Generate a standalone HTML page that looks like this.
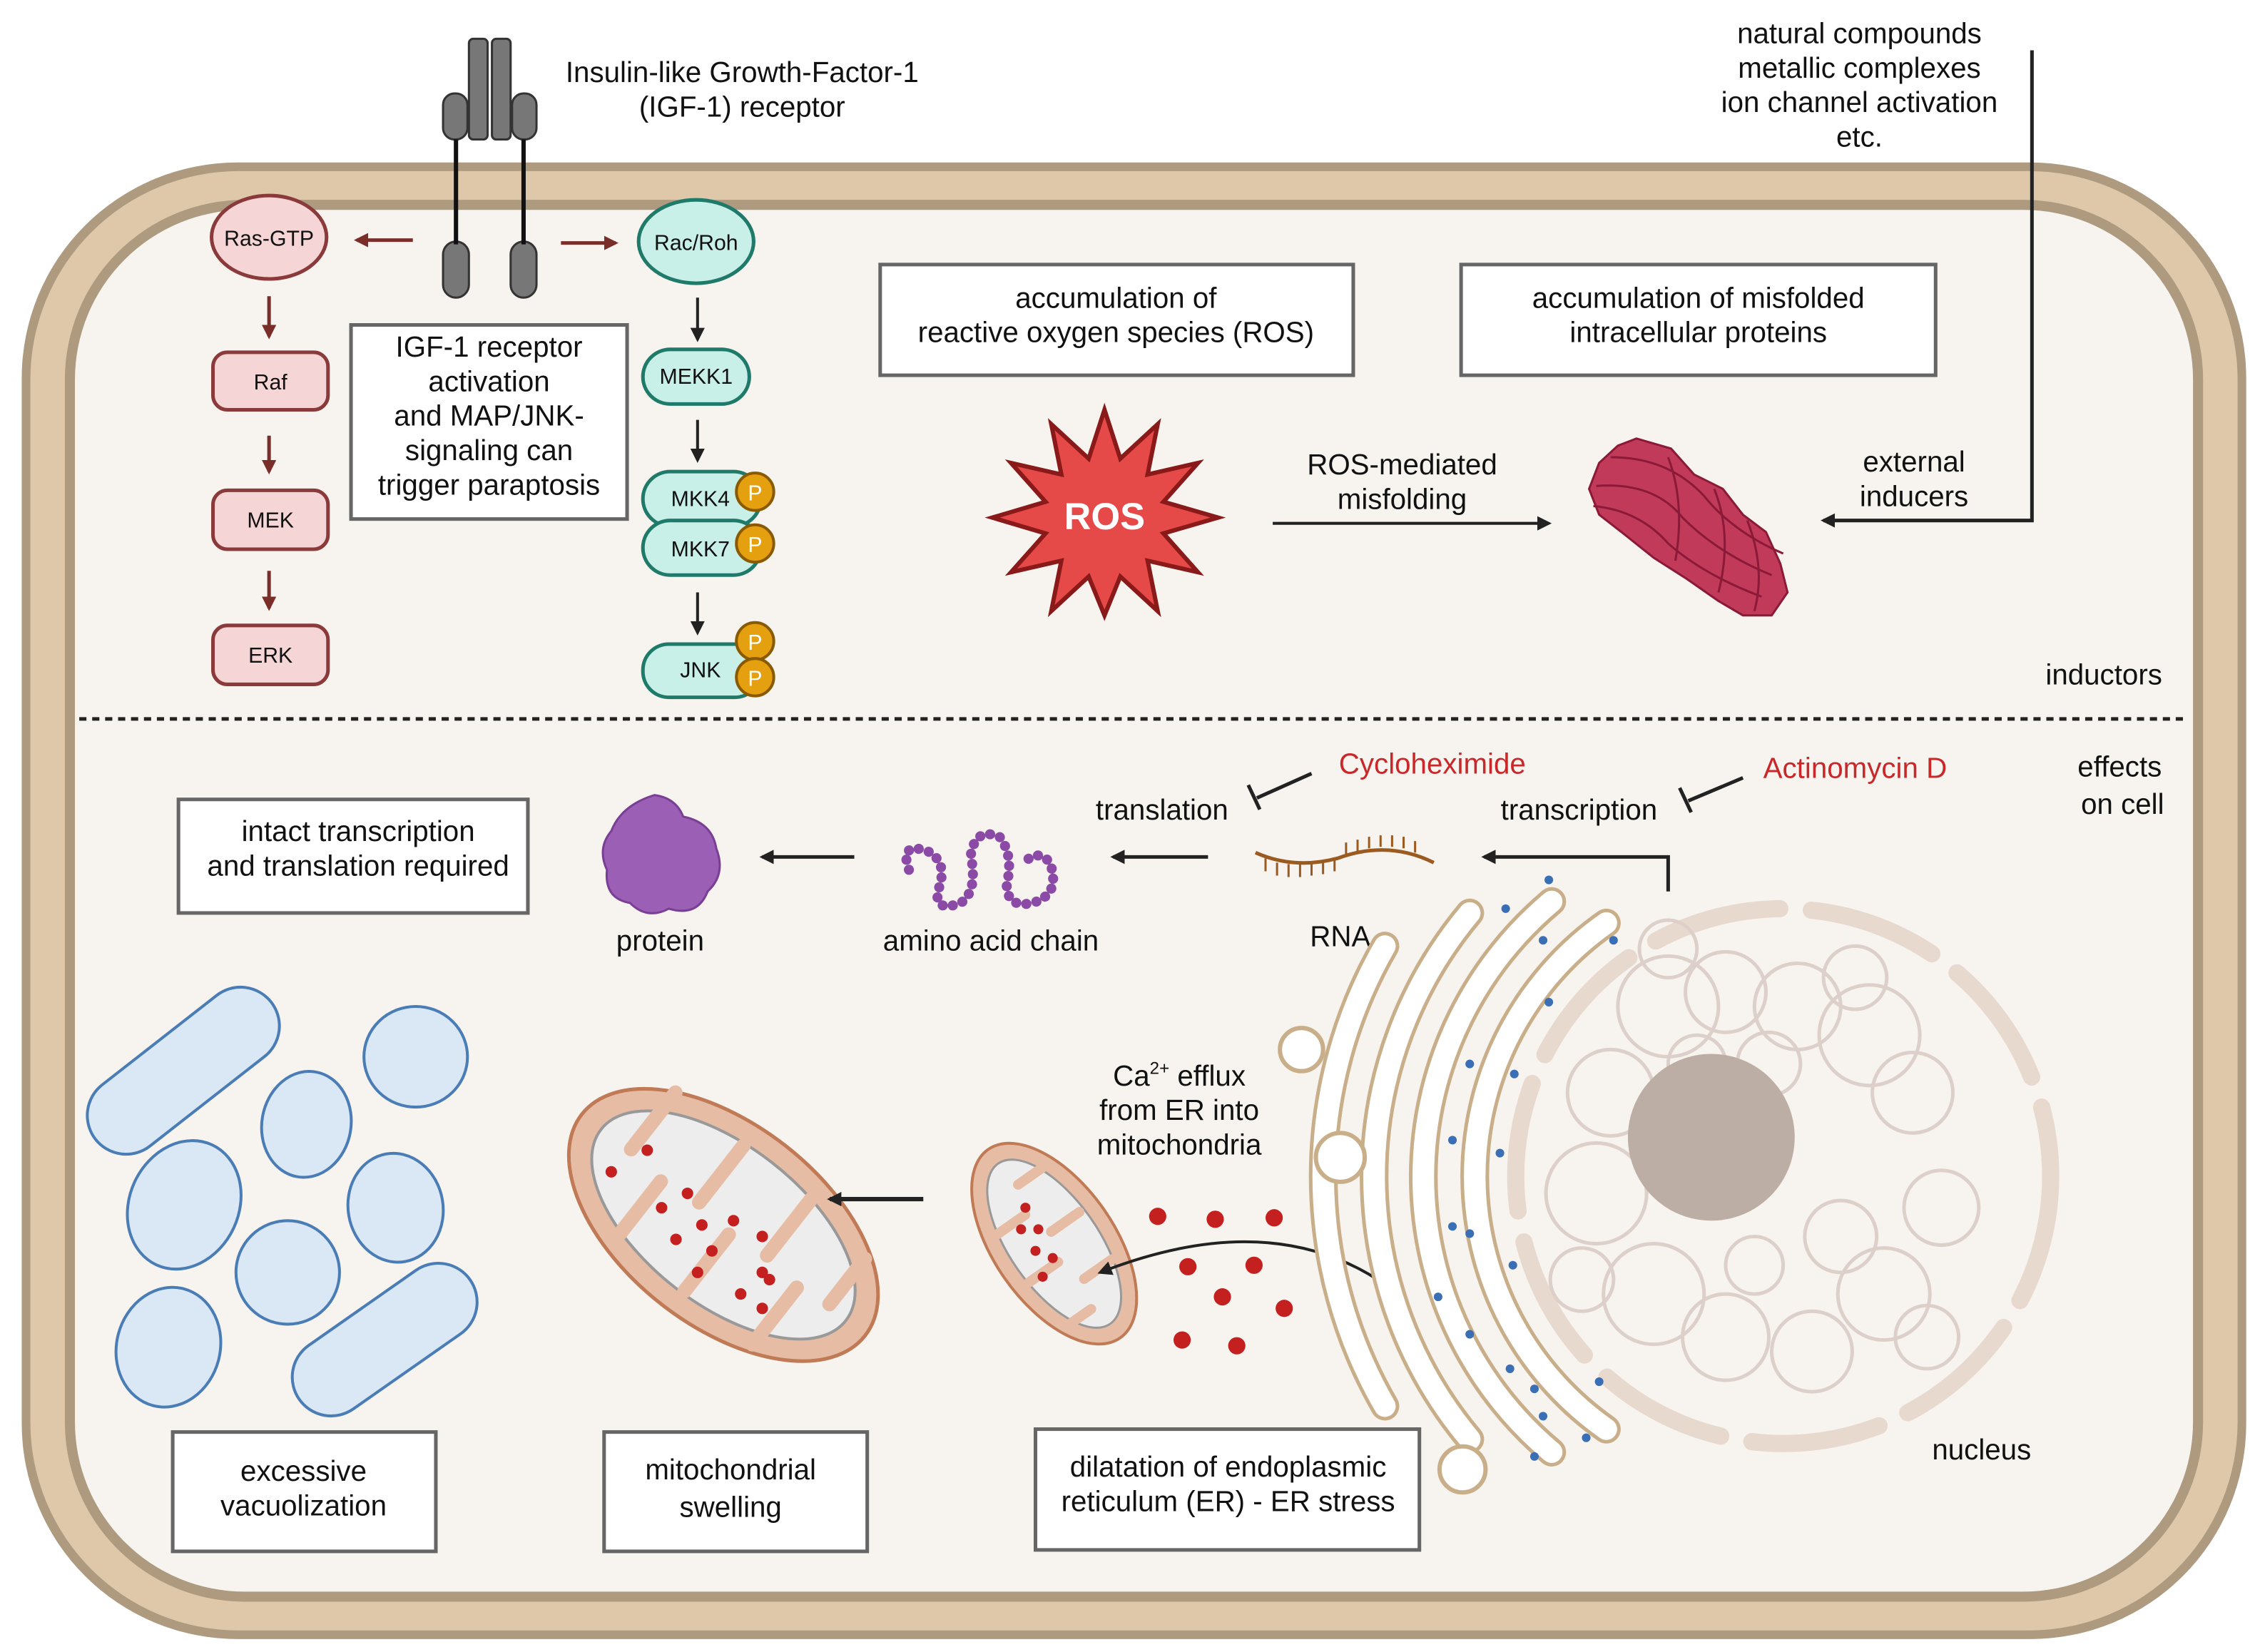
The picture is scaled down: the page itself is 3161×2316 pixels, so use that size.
<!DOCTYPE html>
<html><head><meta charset="utf-8"><style>
html,body{margin:0;padding:0;background:#fff;}
svg{display:block;}
text{font-family:"Liberation Sans",sans-serif;fill:#111;}
</style></head><body>
<svg width="3161" height="2316" viewBox="0 0 1568 1149" xmlns="http://www.w3.org/2000/svg">
<defs>
<marker id="ab" markerWidth="10" markerHeight="10" refX="8" refY="5" orient="auto" markerUnits="userSpaceOnUse"><path d="M0,0 L10,5 L0,10 Z" fill="#222"/></marker>
<marker id="ar" markerWidth="10" markerHeight="10" refX="8" refY="5" orient="auto" markerUnits="userSpaceOnUse"><path d="M0,0 L10,5 L0,10 Z" fill="#7a2e2a"/></marker>
</defs>
<rect width="1568" height="1149" fill="#fff"/>
<!-- cell -->
<rect x="15" y="113" width="1547" height="1027" rx="150" fill="#ad9a7f"/>
<rect x="21" y="119" width="1535" height="1015" rx="145" fill="#dfc8aa"/>
<rect x="45" y="139" width="1487" height="975" rx="125" fill="#ad9a7f"/>
<rect x="52" y="146" width="1473" height="961" rx="118" fill="#f7f4ef"/>
<line x1="55" y1="500" x2="1522" y2="500" stroke="#222" stroke-width="2.5" stroke-dasharray="5,4"/>

<!-- receptor -->
<g fill="#777" stroke="#333" stroke-width="1.5">
<rect x="326" y="27" width="13" height="70" rx="3"/>
<rect x="342" y="27" width="13" height="70" rx="3"/>
<rect x="308" y="65" width="17" height="32" rx="8"/>
<rect x="356" y="65" width="17" height="32" rx="8"/>
<rect x="308" y="168" width="18" height="39" rx="9"/>
<rect x="355" y="168" width="18" height="39" rx="9"/>
</g>
<line x1="317" y1="97" x2="317" y2="170" stroke="#111" stroke-width="3"/>
<line x1="364" y1="97" x2="364" y2="170" stroke="#111" stroke-width="3"/>
<text x="516" y="57" font-size="20" text-anchor="middle">Insulin-like Growth-Factor-1</text>
<text x="516" y="81" font-size="20" text-anchor="middle">(IGF-1) receptor</text>

<!-- Ras pathway -->
<g stroke="#7a2e2a" stroke-width="2.5" marker-end="url(#ar)">
<line x1="287" y1="167" x2="248" y2="167"/>
<line x1="390" y1="169" x2="428" y2="169"/>
<line x1="187" y1="206" x2="187" y2="234"/>
<line x1="187" y1="303" x2="187" y2="328"/>
<line x1="187" y1="397" x2="187" y2="423"/>
</g>
<ellipse cx="187" cy="165" rx="40" ry="29" fill="#f5d5d5" stroke="#8a3a3a" stroke-width="2.5"/>
<text x="187" y="171" font-size="15" text-anchor="middle">Ras-GTP</text>
<rect x="148" y="245" width="80" height="40" rx="10" fill="#f5d5d5" stroke="#8a3a3a" stroke-width="2.5"/>
<text x="188" y="271" font-size="15" text-anchor="middle">Raf</text>
<rect x="148" y="341" width="80" height="41" rx="10" fill="#f5d5d5" stroke="#8a3a3a" stroke-width="2.5"/>
<text x="188" y="367" font-size="15" text-anchor="middle">MEK</text>
<rect x="148" y="435" width="80" height="41" rx="10" fill="#f5d5d5" stroke="#8a3a3a" stroke-width="2.5"/>
<text x="188" y="461" font-size="15" text-anchor="middle">ERK</text>

<!-- IGF box -->
<rect x="244" y="226" width="192" height="135" fill="#fff" stroke="#666" stroke-width="2.5"/>
<g font-size="20" text-anchor="middle">
<text x="340" y="248">IGF-1 receptor</text>
<text x="340" y="272">activation</text>
<text x="340" y="296">and MAP/JNK-</text>
<text x="340" y="320">signaling can</text>
<text x="340" y="344">trigger paraptosis</text>
</g>

<!-- JNK pathway -->
<g stroke="#222" stroke-width="2" marker-end="url(#ab)">
<line x1="485" y1="207" x2="485" y2="236"/>
<line x1="485" y1="292" x2="485" y2="320"/>
<line x1="485" y1="412" x2="485" y2="440"/>
</g>
<g fill="#c8efe8" stroke="#1f7a6a" stroke-width="2.5">
<ellipse cx="484" cy="168" rx="40" ry="29"/>
<rect x="447" y="243" width="74" height="38" rx="19"/>
<rect x="447" y="328" width="82" height="38" rx="19"/>
<rect x="447" y="362" width="82" height="38" rx="19"/>
<rect x="447" y="448" width="82" height="37" rx="18"/>
</g>
<g font-size="15" text-anchor="middle">
<text x="484" y="174">Rac/Roh</text>
<text x="484" y="267">MEKK1</text>
<text x="487" y="352">MKK4</text>
<text x="487" y="387">MKK7</text>
<text x="487" y="471">JNK</text>
</g>
<g fill="#e5a00f" stroke="#8a5a00" stroke-width="2">
<circle cx="525" cy="342" r="13"/><circle cx="525" cy="378" r="13"/>
<circle cx="525" cy="446" r="13"/><circle cx="525" cy="471" r="13"/>
</g>
<g font-size="15" text-anchor="middle">
<text x="525" y="348" style="fill:#fff">P</text><text x="525" y="384" style="fill:#fff">P</text>
<text x="525" y="452" style="fill:#fff">P</text><text x="525" y="477" style="fill:#fff">P</text>
</g>

<!-- top boxes -->
<rect x="612" y="184" width="329" height="77" fill="#fff" stroke="#666" stroke-width="2.5"/>
<text x="776" y="214" font-size="20" text-anchor="middle">accumulation of</text>
<text x="776" y="238" font-size="20" text-anchor="middle">reactive oxygen species (ROS)</text>
<rect x="1016" y="184" width="330" height="77" fill="#fff" stroke="#666" stroke-width="2.5"/>
<text x="1181" y="214" font-size="20" text-anchor="middle">accumulation of misfolded</text>
<text x="1181" y="238" font-size="20" text-anchor="middle">intracellular proteins</text>

<!-- ROS star -->
<polygon points="768,285 779,319 805,295 798,330 833,322 809,349 847,360 809,371 833,398 798,390 805,425 779,401 768,428 757,401 731,425 738,390 703,398 727,371 690,360 727,349 703,322 738,330 731,295 757,319" fill="#e54a48" stroke="#8a1a1a" stroke-width="3"/>
<text x="768" y="368" font-size="26" font-weight="bold" text-anchor="middle" style="fill:#fff">ROS</text>
<line x1="885" y1="364" x2="1077" y2="364" stroke="#222" stroke-width="2" marker-end="url(#ab)"/>
<text x="975" y="330" font-size="20" text-anchor="middle">ROS-mediated</text>
<text x="975" y="354" font-size="20" text-anchor="middle">misfolding</text>

<!-- aggregate -->
<g fill="#c23a5a" stroke="#8a1a38" stroke-width="1.5">
<path d="M1138,305 L1162,312 L1178,330 L1198,340 L1212,358 L1228,370 L1238,392 L1243,412 L1232,428 L1212,428 L1195,418 L1172,402 L1150,388 L1130,372 L1112,358 L1105,340 L1112,322 L1125,310 Z"/>
<path d="M1110,338 Q1150,335 1170,360 Q1195,385 1232,400" fill="none"/>
<path d="M1120,318 Q1160,318 1185,345 Q1205,370 1240,385" fill="none"/>
<path d="M1108,352 Q1140,355 1160,378 Q1185,400 1225,415" fill="none"/>
<path d="M1160,318 Q1172,350 1165,390" fill="none"/>
<path d="M1192,340 Q1205,372 1195,412" fill="none"/>
<path d="M1215,362 Q1228,395 1220,425" fill="none"/>
</g>

<!-- external inducers -->
<polyline points="1413,35 1413,362 1268,362" fill="none" stroke="#222" stroke-width="2.5" marker-end="url(#ab)"/>
<g font-size="20" text-anchor="middle">
<text x="1293" y="30">natural compounds</text>
<text x="1293" y="54">metallic complexes</text>
<text x="1293" y="78">ion channel activation</text>
<text x="1293" y="102">etc.</text>
<text x="1331" y="328">external</text>
<text x="1331" y="352">inducers</text>
<text x="1463" y="476">inductors</text>
<text x="1474" y="540">effects</text>
<text x="1476" y="566">on cell</text>
</g>

<!-- transcription / translation -->
<text x="996" y="538" font-size="20" text-anchor="middle" style="fill:#c8282a">Cycloheximide</text>
<text x="1290" y="541" font-size="20" text-anchor="middle" style="fill:#c8282a">Actinomycin D</text>
<g stroke="#222" stroke-width="2.5">
<line x1="912" y1="538" x2="874" y2="555"/><line x1="868" y1="546" x2="876" y2="563"/>
<line x1="1212" y1="541" x2="1174" y2="557"/><line x1="1168" y1="548" x2="1176" y2="565"/>
</g>
<text x="808" y="570" font-size="20" text-anchor="middle">translation</text>
<text x="1098" y="570" font-size="20" text-anchor="middle">transcription</text>
<polyline points="1160,620 1160,596 1032,596" fill="none" stroke="#222" stroke-width="2.5" marker-end="url(#ab)"/>
<line x1="840" y1="596" x2="774" y2="596" stroke="#222" stroke-width="2.5" marker-end="url(#ab)"/>
<line x1="594" y1="596" x2="530" y2="596" stroke="#222" stroke-width="2.5" marker-end="url(#ab)"/>
<!-- RNA -->
<path d="M873,593 Q900,605 930,597 Q965,584 997,600" fill="none" stroke="#9a5a20" stroke-width="2.5"/>
<g stroke="#9a5a20" stroke-width="1.5">
<line x1="880" y1="597" x2="880" y2="606"/><line x1="888" y1="600" x2="888" y2="609"/><line x1="896" y1="601" x2="896" y2="610"/><line x1="904" y1="601" x2="904" y2="610"/><line x1="912" y1="600" x2="912" y2="609"/><line x1="920" y1="599" x2="920" y2="608"/><line x1="928" y1="597" x2="928" y2="606"/><line x1="936" y1="594" x2="936" y2="586"/><line x1="944" y1="592" x2="944" y2="584"/><line x1="952" y1="590" x2="952" y2="582"/><line x1="960" y1="589" x2="960" y2="581"/><line x1="968" y1="589" x2="968" y2="581"/><line x1="976" y1="590" x2="976" y2="582"/><line x1="984" y1="593" x2="984" y2="585"/>
</g>
<text x="932" y="658" font-size="20" text-anchor="middle">RNA</text>
<!-- amino acid chain -->
<path d="M632,605 Q625,585 645,592 Q660,600 652,620 Q650,635 668,628 Q680,620 675,595 Q678,575 695,582 Q705,595 700,615 Q700,632 718,628 Q738,622 730,600 Q722,590 712,600" fill="none" stroke="#8a4aa5" stroke-width="7" stroke-dasharray="0.1,7" stroke-linecap="round"/>
<text x="689" y="661" font-size="20" text-anchor="middle">amino acid chain</text>
<!-- protein -->
<path d="M455,553 Q470,555 475,568 Q495,572 498,590 Q505,608 492,620 Q485,638 465,632 Q450,640 438,628 Q420,625 422,605 Q415,590 425,578 Q432,560 455,553 Z" fill="#9b5fb5" stroke="#7a3f95" stroke-width="1.5"/>
<text x="459" y="661" font-size="20" text-anchor="middle">protein</text>
<rect x="124" y="556" width="243" height="79" fill="#fff" stroke="#666" stroke-width="2.5"/>
<text x="249" y="585" font-size="20" text-anchor="middle">intact transcription</text>
<text x="249" y="609" font-size="20" text-anchor="middle">and translation required</text>

<!-- vacuoles -->
<g fill="#dae8f5" stroke="#4a7cb5" stroke-width="2">
<rect x="50" y="718" width="155" height="54" rx="27" transform="rotate(-38 127 745)"/>
<ellipse cx="289" cy="735" rx="36" ry="35"/>
<ellipse cx="213" cy="782" rx="31" ry="37" transform="rotate(10 213 782)"/>
<ellipse cx="128" cy="838" rx="38" ry="46" transform="rotate(25 128 838)"/>
<ellipse cx="275" cy="840" rx="33" ry="38" transform="rotate(-10 275 840)"/>
<ellipse cx="200" cy="885" rx="36" ry="36"/>
<ellipse cx="117" cy="937" rx="36" ry="42" transform="rotate(15 117 937)"/>
<rect x="195" y="905" width="145" height="54" rx="27" transform="rotate(-35 267 932)"/>
</g>
<rect x="120" y="996" width="183" height="83" fill="#fff" stroke="#666" stroke-width="2.5"/>
<text x="211" y="1030" font-size="20" text-anchor="middle">excessive</text>
<text x="211" y="1054" font-size="20" text-anchor="middle">vacuolization</text>

<!-- mitochondria -->
<g transform="rotate(38 503 852)">
<ellipse cx="503" cy="852" rx="125" ry="70" fill="#e6bca5" stroke="#c07a55" stroke-width="2.5"/>
<ellipse cx="503" cy="852" rx="108" ry="55" fill="#ededed" stroke="#999" stroke-width="2"/>
<g stroke="#e6bca5" stroke-width="10" stroke-linecap="round">
<line x1="420" y1="800" x2="420" y2="850"/><line x1="450" y1="905" x2="450" y2="855"/><line x1="480" y1="800" x2="480" y2="850"/><line x1="510" y1="905" x2="510" y2="855"/><line x1="540" y1="800" x2="540" y2="850"/><line x1="570" y1="905" x2="570" y2="855"/><line x1="595" y1="810" x2="595" y2="850"/>
</g>
</g>
<g fill="#c42020">
<circle cx="425" cy="815" r="4"/><circle cx="450" cy="800" r="4"/><circle cx="460" cy="840" r="4"/><circle cx="478" cy="830" r="4"/><circle cx="470" cy="862" r="4"/><circle cx="488" cy="852" r="4"/><circle cx="495" cy="870" r="4"/><circle cx="510" cy="849" r="4"/><circle cx="530" cy="860" r="4"/><circle cx="485" cy="885" r="4"/><circle cx="515" cy="900" r="4"/><circle cx="530" cy="885" r="4"/><circle cx="535" cy="890" r="4"/><circle cx="530" cy="910" r="4"/>
</g>
<g transform="rotate(55 733 865)">
<ellipse cx="733" cy="865" rx="80" ry="42" fill="#e6bca5" stroke="#c07a55" stroke-width="2"/>
<ellipse cx="733" cy="865" rx="68" ry="31" fill="#ededed" stroke="#999" stroke-width="1.5"/>
<g stroke="#e6bca5" stroke-width="7" stroke-linecap="round">
<line x1="685" y1="838" x2="685" y2="862"/><line x1="705" y1="895" x2="705" y2="870"/><line x1="725" y1="838" x2="725" y2="862"/><line x1="745" y1="895" x2="745" y2="870"/><line x1="765" y1="838" x2="765" y2="862"/><line x1="785" y1="890" x2="785" y2="870"/>
</g>
</g>
<g fill="#c42020">
<circle cx="713" cy="840" r="3.5"/><circle cx="722" cy="855" r="3.5"/><circle cx="710" cy="855" r="3.5"/><circle cx="720" cy="870" r="3.5"/><circle cx="732" cy="875" r="3.5"/><circle cx="725" cy="888" r="3.5"/>
</g>
<line x1="642" y1="834" x2="577" y2="834" stroke="#222" stroke-width="3" marker-end="url(#ab)"/>
<rect x="420" y="996" width="183" height="83" fill="#fff" stroke="#666" stroke-width="2.5"/>
<text x="508" y="1029" font-size="20" text-anchor="middle">mitochondrial</text>
<text x="508" y="1055" font-size="20" text-anchor="middle">swelling</text>
<g fill="#c42020">
<circle cx="805" cy="846" r="6"/><circle cx="845" cy="848" r="6"/><circle cx="886" cy="847" r="6"/><circle cx="826" cy="881" r="6"/><circle cx="872" cy="880" r="6"/><circle cx="850" cy="902" r="6"/><circle cx="893" cy="910" r="6"/><circle cx="822" cy="932" r="6"/><circle cx="860" cy="936" r="6"/>
</g>
<path d="M958,890 Q880,840 765,885" fill="none" stroke="#222" stroke-width="2" marker-end="url(#ab)"/>
<text x="820" y="755" font-size="20" text-anchor="middle">Ca<tspan font-size="12" dy="-8">2+</tspan><tspan dy="8"> efflux</tspan></text>
<text x="820" y="779" font-size="20" text-anchor="middle">from ER into</text>
<text x="820" y="803" font-size="20" text-anchor="middle">mitochondria</text>

<!-- nucleus -->
<circle cx="1240" cy="818" r="186" fill="none" stroke="#e8d9cf" stroke-width="12" stroke-dasharray="90,22" stroke-linecap="round"/>
<g fill="none" stroke="#ddd0ca" stroke-width="2.5">
<circle cx="1160" cy="700" r="35"/><circle cx="1200" cy="690" r="28"/><circle cx="1250" cy="700" r="30"/><circle cx="1300" cy="720" r="35"/><circle cx="1330" cy="760" r="28"/><circle cx="1120" cy="760" r="30"/><circle cx="1110" cy="830" r="35"/><circle cx="1150" cy="900" r="35"/><circle cx="1200" cy="930" r="30"/><circle cx="1260" cy="940" r="28"/><circle cx="1310" cy="900" r="32"/><circle cx="1350" cy="840" r="26"/><circle cx="1280" cy="860" r="25"/><circle cx="1230" cy="740" r="22"/><circle cx="1180" cy="740" r="20"/><circle cx="1340" cy="930" r="22"/><circle cx="1100" cy="890" r="22"/><circle cx="1160" cy="660" r="20"/><circle cx="1290" cy="680" r="22"/><circle cx="1220" cy="880" r="20"/>
</g>
<circle cx="1190" cy="791" r="58" fill="#bcaea4"/>
<text x="1378" y="1015" font-size="20" text-anchor="middle">nucleus</text>

<!-- ER -->
<g fill="none" stroke-linecap="round">
<g stroke="#c9ae8a" stroke-width="20">
<path d="M1117,994 A215,215 0 0 1 1117,642"/>
<path d="M1079,1010 A250,250 0 0 1 1079,627"/>
<path d="M1022,1001 A285,285 0 0 1 1022,635"/>
<path d="M963,978 A320,320 0 0 1 963,658"/>
</g>
<g stroke="#fff" stroke-width="15">
<path d="M1117,994 A215,215 0 0 1 1117,642"/>
<path d="M1079,1010 A250,250 0 0 1 1079,627"/>
<path d="M1022,1001 A285,285 0 0 1 1022,635"/>
<path d="M963,978 A320,320 0 0 1 963,658"/>
</g>
</g>
<g fill="#fff" stroke="#c9ae8a" stroke-width="3">
<circle cx="905" cy="730" r="15"/><circle cx="932" cy="805" r="17"/><circle cx="1017" cy="1022" r="16"/>
</g>
<g fill="#3a6fb5">
<circle cx="1077" cy="612" r="3"/><circle cx="1047" cy="632" r="3"/><circle cx="1073" cy="654" r="3"/><circle cx="1122" cy="654" r="3"/><circle cx="1077" cy="697" r="3"/><circle cx="1022" cy="740" r="3"/><circle cx="1053" cy="747" r="3"/><circle cx="1010" cy="793" r="3"/><circle cx="1043" cy="802" r="3"/><circle cx="1010" cy="853" r="3"/><circle cx="1022" cy="858" r="3"/><circle cx="1052" cy="880" r="3"/><circle cx="1000" cy="902" r="3"/><circle cx="1022" cy="928" r="3"/><circle cx="1050" cy="952" r="3"/><circle cx="1067" cy="966" r="3"/><circle cx="1112" cy="961" r="3"/><circle cx="1073" cy="985" r="3"/><circle cx="1103" cy="1000" r="3"/><circle cx="1067" cy="1013" r="3"/>
</g>
<rect x="720" y="994" width="267" height="84" fill="#fff" stroke="#666" stroke-width="2.5"/>
<text x="854" y="1027" font-size="20" text-anchor="middle">dilatation of endoplasmic</text>
<text x="854" y="1051" font-size="20" text-anchor="middle">reticulum (ER) - ER stress</text>
</svg>
</body></html>
